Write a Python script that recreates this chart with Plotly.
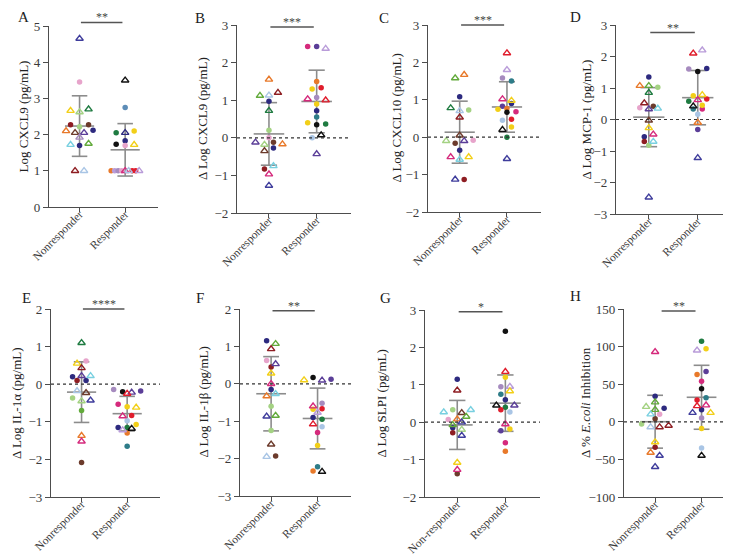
import numpy as np
import plotly.graph_objects as go

W, H = 731, 555
FONT = "Liberation Serif"

# ---------------- data ----------------
# patient codes: lowercase = filled circle, UPPERCASE = open triangle
GROUP_LABELS = ["Nonresponder", "Responder"]
GROUP_LABELS_G = ["Non-responder", "Responder"]

A_nr_vals = [4.65, 3.45, 2.66, 2.62, 2.70, 2.27, 2.22, 2.27, 2.10, 2.05, 2.05, 2.12, 1.92, 1.72, 1.70, 1.75, 1.0, 1.0]
A_nr_ids = ["IN", "pk", "YE", "LG", "DG", "mr", "lg", "br", "OR", "BR", "PU", "nv", "MV", "CY", "nv", "GR", "MR", "LB"]
A_r_vals = [3.50, 2.75, 2.05, 2.05, 2.10, 1.83, 1.73, 1.70, 1.72, 1.0, 1.0, 1.0, 1.0, 1.0, 1.0, 1.0, 1.0, 1.0]
A_r_ids = ["BK", "st", "dg", "NV", "ye", "nv", "bk", "pk", "YE", "or", "la", "mv", "pk", "MG", "LB", "rd", "rd", "LA"]

B_nr_vals = [1.55, 1.12, 1.13, 1.20, 0.97, 0.72, 0.20, 0.0, -0.12, -0.18, -0.12, -0.17, -0.35, -0.27, -0.83, -0.75, -0.97, -1.27]
B_nr_ids = ["OR", "GR", "LB", "MR", "nv", "DG", "lg", "pk", "PU", "LG", "br", "OR", "BR", "nv", "mr", "CY", "MG", "IN"]
B_r_vals = [2.43, 2.43, 2.37, 1.50, 1.30, 1.33, 1.03, 1.07, 1.00, 0.90, 0.72, 0.55, 0.40, 0.35, 0.37, 0.0, 0.07, -0.43]
B_r_ids = ["mg", "pu", "LA", "or", "ye", "rd", "MG", "mv", "RD", "ye", "nv", "te", "ye", "bk", "dg", "lb", "BK", "PU"]

C_nr_vals = [1.58, 1.67, 1.08, 0.78, 0.70, 0.73, 0.53, 0.05, -0.10, -0.16, -0.10, -0.08, -0.35, -0.53, -0.60, -0.53, -1.13, -1.13]
C_nr_ids = ["GR", "OR", "nv", "DG", "LB", "lg", "MR", "BR", "LG", "br", "PU", "pk", "nv", "MG", "CY", "YE", "IN", "mr"]
C_r_vals = [2.25, 1.80, 1.58, 1.50, 1.02, 0.98, 0.83, 0.90, 0.75, 0.77, 0.67, 0.68, 0.45, 0.48, 0.20, 0.27, 0.0, -0.58]
C_r_ids = ["RD", "LA", "mv", "te", "MG", "YE", "pu", "nv", "ye", "or", "bk", "mg", "lb", "rd", "BK", "ye", "dg", "IN"]

D_nr_vals = [1.35, 1.07, 1.07, 1.02, 0.85, 0.52, 0.37, 0.42, 0.33, 0.35, -0.03, -0.27, -0.55, -0.47, -0.70, -0.70, -0.82, -2.47]
D_nr_ids = ["nv", "OR", "GR", "lg", "DG", "MR", "pk", "br", "PU", "CY", "BR", "YE", "nv", "MG", "mr", "CY", "lg", "IN"]
D_r_vals = [2.10, 2.20, 1.60, 1.52, 1.62, 0.75, 0.78, 0.42, 0.58, 0.62, 0.65, 0.33, 0.33, 0.45, 0.17, -0.10, -0.32, -1.22]
D_r_ids = ["RD", "LA", "mv", "bk", "nv", "ye", "YE", "BK", "dg", "MG", "rd", "te", "mg", "ye", "lb", "OR", "pu", "IN"]

E_nr_vals = [1.10, 0.55, 0.62, 0.43, 0.20, 0.22, 0.22, 0.10, 0.10, -0.18, -0.23, -0.37, -0.45, -0.43, -0.70, -1.37, -1.52, -2.08]
E_nr_ids = ["DG", "YE", "pk", "MR", "nv", "PU", "CY", "mr", "nv", "LB", "BR", "lg", "LG", "IN", "gr", "OR", "MG", "br"]
E_r_vals = [-0.14, -0.20, -0.22, -0.18, -0.25, -0.53, -0.60, -0.62, -0.85, -0.83, -0.97, -1.15, -1.15, -1.07, -1.22, -1.18, -1.30, -1.65]
E_r_ids = ["mv", "bk", "PU", "pu", "RD", "mg", "ye", "YE", "MG", "rd", "lb", "nv", "dg", "ye", "LA", "BK", "or", "te"]

F_nr_vals = [1.15, 1.07, 0.93, 0.62, 0.53, 0.45, 0.28, 0.0, -0.15, -0.33, -0.27, -0.60, -0.87, -0.85, -1.25, -1.62, -1.95, -1.93]
F_nr_ids = ["nv", "GR", "MR", "pk", "PU", "mr", "YE", "MG", "nv", "OR", "CY", "lg", "IN", "GR", "lg", "BR", "LB", "br"]
F_r_vals = [0.10, 0.17, 0.09, 0.12, -0.60, -0.52, -0.68, -0.67, -0.77, -0.90, -0.95, -1.08, -1.15, -1.30, -1.65, -2.22, -2.33, -2.35]
F_r_ids = ["YE", "bk", "PU", "pu", "MG", "mv", "ye", "rd", "LA", "nv", "dg", "RD", "lb", "mg", "ye", "te", "or", "BK"]

G_nr_vals = [1.15, 0.85, 0.27, 0.33, 0.25, 0.33, 0.07, 0.08, 0.15, -0.07, 0.0, -0.15, -0.20, -0.28, -0.36, -1.08, -1.27, -1.38]
G_nr_ids = ["nv", "MR", "CY", "lg", "BR", "CY", "pk", "OR", "GR", "GR", "IN", "nv", "LG", "mr", "IN", "YE", "MG", "br"]
G_r_vals = [2.43, 1.35, 1.20, 0.95, 0.95, 0.75, 0.83, 0.60, 0.45, 0.40, 0.45, 0.33, 0.27, -0.05, -0.23, -0.18, -0.55, -0.78]
G_r_ids = ["bk", "RD", "ye", "mv", "LA", "te", "YE", "nv", "BK", "dg", "PU", "rd", "lb", "MG", "pu", "ye", "mg", "or"]

H_nr_vals = [93, 34, 26, 20, 16, 18, 10, 10, 4, -3, -7, -7, -5, -27, -34, -41, -45, -60]
H_nr_ids = ["MG", "nv", "GR", "LG", "GR", "nv", "CY", "pk", "br", "lg", "LB", "MR", "MR", "YE", "mr", "OR", "IN", "IN"]
H_r_vals = [107, 95, 97, 63, 67, 54, 44, 29, 32, 21, 22, 12, 16, 12, 5, -9, -35, -45]
H_r_ids = ["dg", "LA", "ye", "or", "pu", "mg", "bk", "rd", "te", "RD", "MG", "IN", "nv", "YE", "mv", "ye", "lb", "BK"]

PANEL_LETTERS = ["A", "B", "C", "D", "E", "F", "G", "H"]
Y_TITLES = ["Log CXCL9 (pg/mL)", "Δ Log CXCL9 (pg/mL)", "Δ Log CXCL10 (pg/mL)", "Δ Log MCP-1 (pg/mL)",
            "Δ Log IL-1α (pg/mL)", "Δ Log IL-1β (pg/mL)", "Δ Log SLPI (pg/mL)", "Δ % <i>E.coli</i> Inhibition"]
Y_RANGES = [(0, 5), (-2, 3), (-2, 3), (-3, 3), (-3, 2), (-3, 2), (-2, 3), (-100, 150)]
Y_DTICK = [1, 1, 1, 1, 1, 1, 1, 50]
STARS = ["**", "***", "***", "**", "****", "**", "*", "**"]

DATA = [
    (A_nr_vals, A_nr_ids, A_r_vals, A_r_ids),
    (B_nr_vals, B_nr_ids, B_r_vals, B_r_ids),
    (C_nr_vals, C_nr_ids, C_r_vals, C_r_ids),
    (D_nr_vals, D_nr_ids, D_r_vals, D_r_ids),
    (E_nr_vals, E_nr_ids, E_r_vals, E_r_ids),
    (F_nr_vals, F_nr_ids, F_r_vals, F_r_ids),
    (G_nr_vals, G_nr_ids, G_r_vals, G_r_ids),
    (H_nr_vals, H_nr_ids, H_r_vals, H_r_ids),
]

# ---------------- styles / layout ----------------
PALETTE = {
    "nv": "#2d2a7f", "in": "#3f3d9c", "pu": "#5b3e98", "mr": "#8e1d22", "br": "#6c3b2c",
    "or": "#e8792a", "ye": "#f2cf18", "lg": "#a4d283", "gr": "#62aa3b", "dg": "#1f7b41",
    "te": "#2e7c88", "st": "#5d8db7", "lb": "#a9c5e5", "cy": "#79d0e0", "la": "#b99cd9",
    "mv": "#a68bbf", "pk": "#e7a4cb", "mg": "#d52a7c", "rd": "#e01d2c", "bk": "#111111",
}
# plot boxes in pixels: (left, right, top, bottom)
BOXES = [
    (41, 150, 18, 199), (229, 343, 17, 205), (420, 533, 17, 204), (608, 725, 17, 206),
    (43, 152, 301, 489), (232, 343, 301, 488), (417, 532, 302, 489), (616, 727, 301, 489),
]
LETTER_POS = [(15, 9), (192, 10), (376, 10), (567, 9), (18, 290), (192, 290), (377, 290), (567, 288)]
YTITLE_X = [15, 195, 388, 578, 9, 195, 373, 578]
SIG_Y = [1.02, 0.99, 1.0, 0.96, 1.0, 0.99, 0.99, 0.99]
XR = (-0.67, 1.72)
AX_COL = "#4d4d4d"
TXT_COL = "#3a3a3a"
BAR_COL = "#8c8c8c"


def swarm(vals, ppu_y, ppu_x, d_px=9.0, maxspan_px=28.0, thr_px=3.5):
    vals = np.asarray(vals, float)
    order = sorted(range(len(vals)), key=lambda i: -vals[i])
    rows = []
    for i in order:
        if rows and (vals[rows[-1][0]] - vals[i]) * ppu_y <= thr_px:
            rows[-1].append(i)
        else:
            rows.append([i])
    off = np.zeros(len(vals))
    for r in rows:
        r = sorted(r)
        n = len(r)
        if n > 1:
            sp = min(d_px, maxspan_px / (n - 1))
            for k, i in enumerate(r):
                off[i] = (k - (n - 1) / 2) * sp / ppu_x
    return off


fig = go.Figure()
layout = dict(
    width=W, height=H, margin=dict(l=0, r=0, t=0, b=0, autoexpand=False),
    paper_bgcolor="white", plot_bgcolor="white", showlegend=False,
    font=dict(family=FONT, color=TXT_COL), shapes=[], annotations=[],
)

for p in range(8):
    l, r, t, b = BOXES[p]
    xa = "x" if p == 0 else f"x{p+1}"
    ya = "y" if p == 0 else f"y{p+1}"
    xkey = "xaxis" if p == 0 else f"xaxis{p+1}"
    ykey = "yaxis" if p == 0 else f"yaxis{p+1}"
    y0, y1 = Y_RANGES[p]
    ppu_y = (b - t) / (y1 - y0)
    ppu_x = (r - l) / (XR[1] - XR[0])
    labels = GROUP_LABELS_G if p == 6 else GROUP_LABELS

    layout[xkey] = dict(
        domain=[l / W, r / W], anchor=ya, range=list(XR), tickvals=[0, 1], ticktext=labels,
        tickangle=-45, ticks="outside", ticklen=4, tickwidth=1.2, tickcolor=AX_COL,
        showline=True, linecolor=AX_COL, linewidth=1.3, showgrid=False, zeroline=False,
        tickfont=dict(family=FONT, size=11.5, color=TXT_COL), fixedrange=True, automargin=False,
        ticklabelstandoff=-9,
    )
    layout[ykey] = dict(
        domain=[(H - b) / H, (H - t) / H], anchor=xa, range=[y0, y1], dtick=Y_DTICK[p],
        tick0=0, ticks="outside", ticklen=5, tickwidth=1.2, tickcolor=AX_COL,
        showline=True, linecolor=AX_COL, linewidth=1.3, showgrid=False, zeroline=False,
        tickfont=dict(family=FONT, size=13, color=TXT_COL), fixedrange=True, automargin=False,
    )

    # dotted zero line
    if y0 < 0:
        layout["shapes"].append(dict(type="line", xref=f"{xa} domain", yref=ya, x0=0, x1=1, y0=0, y1=0,
                                     line=dict(color="#333333", width=1.2, dash="dot")))

    nr_vals, nr_ids, r_vals, r_ids = DATA[p]
    for g, (vals, ids) in enumerate([(nr_vals, nr_ids), (r_vals, r_ids)]):
        vals = np.asarray(vals, float)
        xs = g + swarm(vals, ppu_y, ppu_x)
        # mean +- SD bars
        m = vals.mean()
        sd = vals.std(ddof=1)
        mw, cw = 0.32, 0.17
        bx = [g - mw, g + mw, None, g - cw, g + cw, None, g - cw, g + cw, None, g, g]
        by = [m, m, None, m + sd, m + sd, None, m - sd, m - sd, None, m - sd, m + sd]
        fig.add_trace(go.Scatter(x=bx, y=by, mode="lines", xaxis=xa, yaxis=ya,
                                 line=dict(color=BAR_COL, width=1.6), hoverinfo="skip"))
        circ = [i for i, c in enumerate(ids) if c.islower()]
        tri = [i for i, c in enumerate(ids) if c.isupper()]
        if circ:
            cols = [PALETTE[ids[i]] for i in circ]
            fig.add_trace(go.Scatter(x=xs[circ], y=vals[circ], mode="markers", xaxis=xa, yaxis=ya,
                                     marker=dict(symbol="circle", size=5.5, color=cols, line=dict(width=0))))
        if tri:
            cols = [PALETTE[ids[i].lower()] for i in tri]
            fig.add_trace(go.Scatter(x=xs[tri], y=vals[tri], mode="markers", xaxis=xa, yaxis=ya,
                                     marker=dict(symbol="triangle-up-open", size=6.5, color=cols,
                                                 line=dict(width=1.4, color=cols))))

    # significance bar
    x0s, x1s = (0.14, 0.87) if p == 7 else (0.03, 0.94)
    layout["shapes"].append(dict(type="line", xref=xa, yref=f"{ya} domain", x0=x0s, x1=x1s,
                                 y0=SIG_Y[p], y1=SIG_Y[p], line=dict(color="#555555", width=1.5)))
    layout["annotations"].append(dict(xref=xa, yref=f"{ya} domain", x=(x0s + x1s) / 2, y=SIG_Y[p],
                                      text=STARS[p], showarrow=False, yanchor="middle", yshift=5,
                                      font=dict(family=FONT, size=12, color="#444444")))
    # panel letter
    lx, ly = LETTER_POS[p]
    layout["annotations"].append(dict(xref="paper", yref="paper", x=lx / W, y=1 - ly / H, text=PANEL_LETTERS[p],
                                      showarrow=False, xanchor="center", yanchor="middle",
                                      font=dict(family=FONT, size=15, color="#222222")))
    # y title
    layout["annotations"].append(dict(xref="paper", yref="paper", x=YTITLE_X[p] / W, y=1 - ((t + b) / 2) / H,
                                      text=Y_TITLES[p], textangle=-90, showarrow=False,
                                      xanchor="center", yanchor="middle",
                                      font=dict(family=FONT, size=13, color="#222222")))

fig.update_layout(**layout)
fig.write_html("out.html")
